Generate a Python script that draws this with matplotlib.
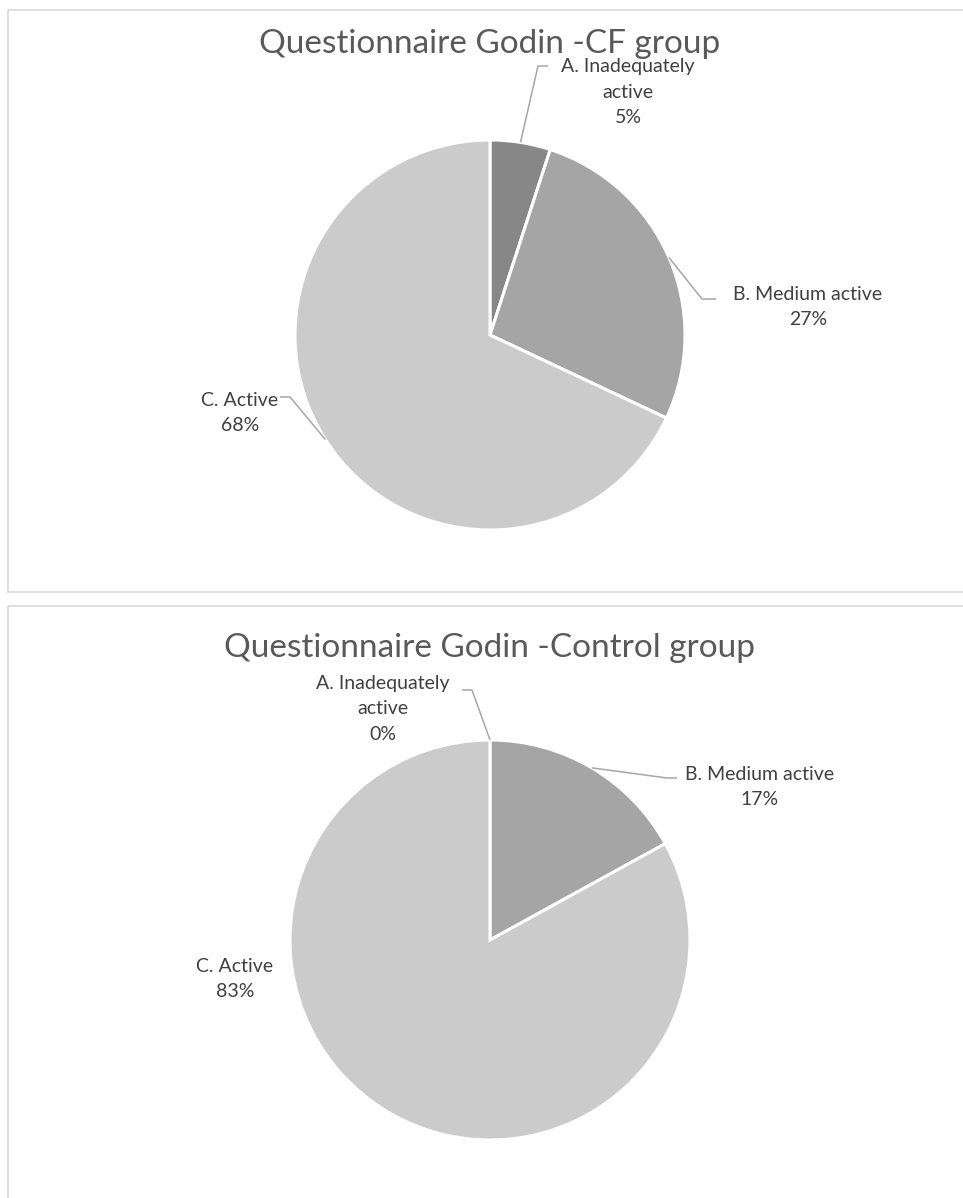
import numpy as np
import matplotlib.pyplot as plt
from matplotlib.patches import Rectangle

########################################
# Data
########################################
categories = ["A. Inadequately\nactive", "B. Medium active", "C. Active"]
cf_values = [5, 27, 68]
control_values = [0, 17, 83]
titles = ["Questionnaire Godin -CF group", "Questionnaire Godin -Control group"]

slice_colors = ["#878787", "#a5a5a5", "#cbcbcb"]
text_color = "#595959"
label_color = "#404040"
line_color = "#a6a6a6"

plt.rcParams["font.family"] = ["Lato", "DejaVu Sans"]

W, H = 963, 1198
fig = plt.figure(figsize=(W / 100, H / 100), dpi=100)
ax = fig.add_axes([0, 0, 1, 1])

########################################
# Chart frames (pixel coords, y down)
########################################
ax.add_patch(Rectangle((7.5, 9.5), 980, 582.5, fill=False, ec="#d9d9d9", lw=1.2))
ax.add_patch(Rectangle((7.5, 606), 980, 620, fill=False, ec="#d9d9d9", lw=1.2))


def draw_chart(values, title, center, radius, title_y, label_pos, leaders):
    # y axis is inverted, so counterclock in data space runs clockwise on screen
    wedges, _ = ax.pie(values, colors=slice_colors, startangle=-90, counterclock=True,
                       center=center, radius=radius,
                       wedgeprops=dict(edgecolor="white", linewidth=2.2))
    ax.text(center[0], title_y, title, ha="center", va="center",
            fontsize=24, color=text_color, fontweight="normal")
    for i, (w, val) in enumerate(zip(wedges, values)):
        lx, ly = label_pos[i]
        ax.text(lx, ly, f"{categories[i]}\n{val}%", ha="center", va="center",
                fontsize=14, color=label_color, linespacing=1.62)
        if leaders[i] is None:
            continue
        mid = np.deg2rad((w.theta1 + w.theta2) / 2)
        px = center[0] + radius * np.cos(mid)
        py = center[1] + radius * np.sin(mid)
        (bx, by), ex = leaders[i]
        ax.plot([px, bx, ex], [py, by, by], color=line_color, lw=1.1,
                solid_capstyle="butt")


draw_chart(cf_values, titles[0], (490, 335), 195, 44,
           [(628, 92), (808, 307), (240, 413)],
           [((538, 66), 548), ((702, 299), 716), ((290, 397), 280)])

draw_chart(control_values, titles[1], (490, 940), 200, 648,
           [(383, 709), (760, 787), (235, 979)],
           [((472, 690), 462), ((667, 778), 677), None])

ax.set_xlim(0, W)
ax.set_ylim(H, 0)
ax.set_aspect("auto")
ax.axis("off")

fig.savefig("out.png", dpi=100, facecolor="white")
